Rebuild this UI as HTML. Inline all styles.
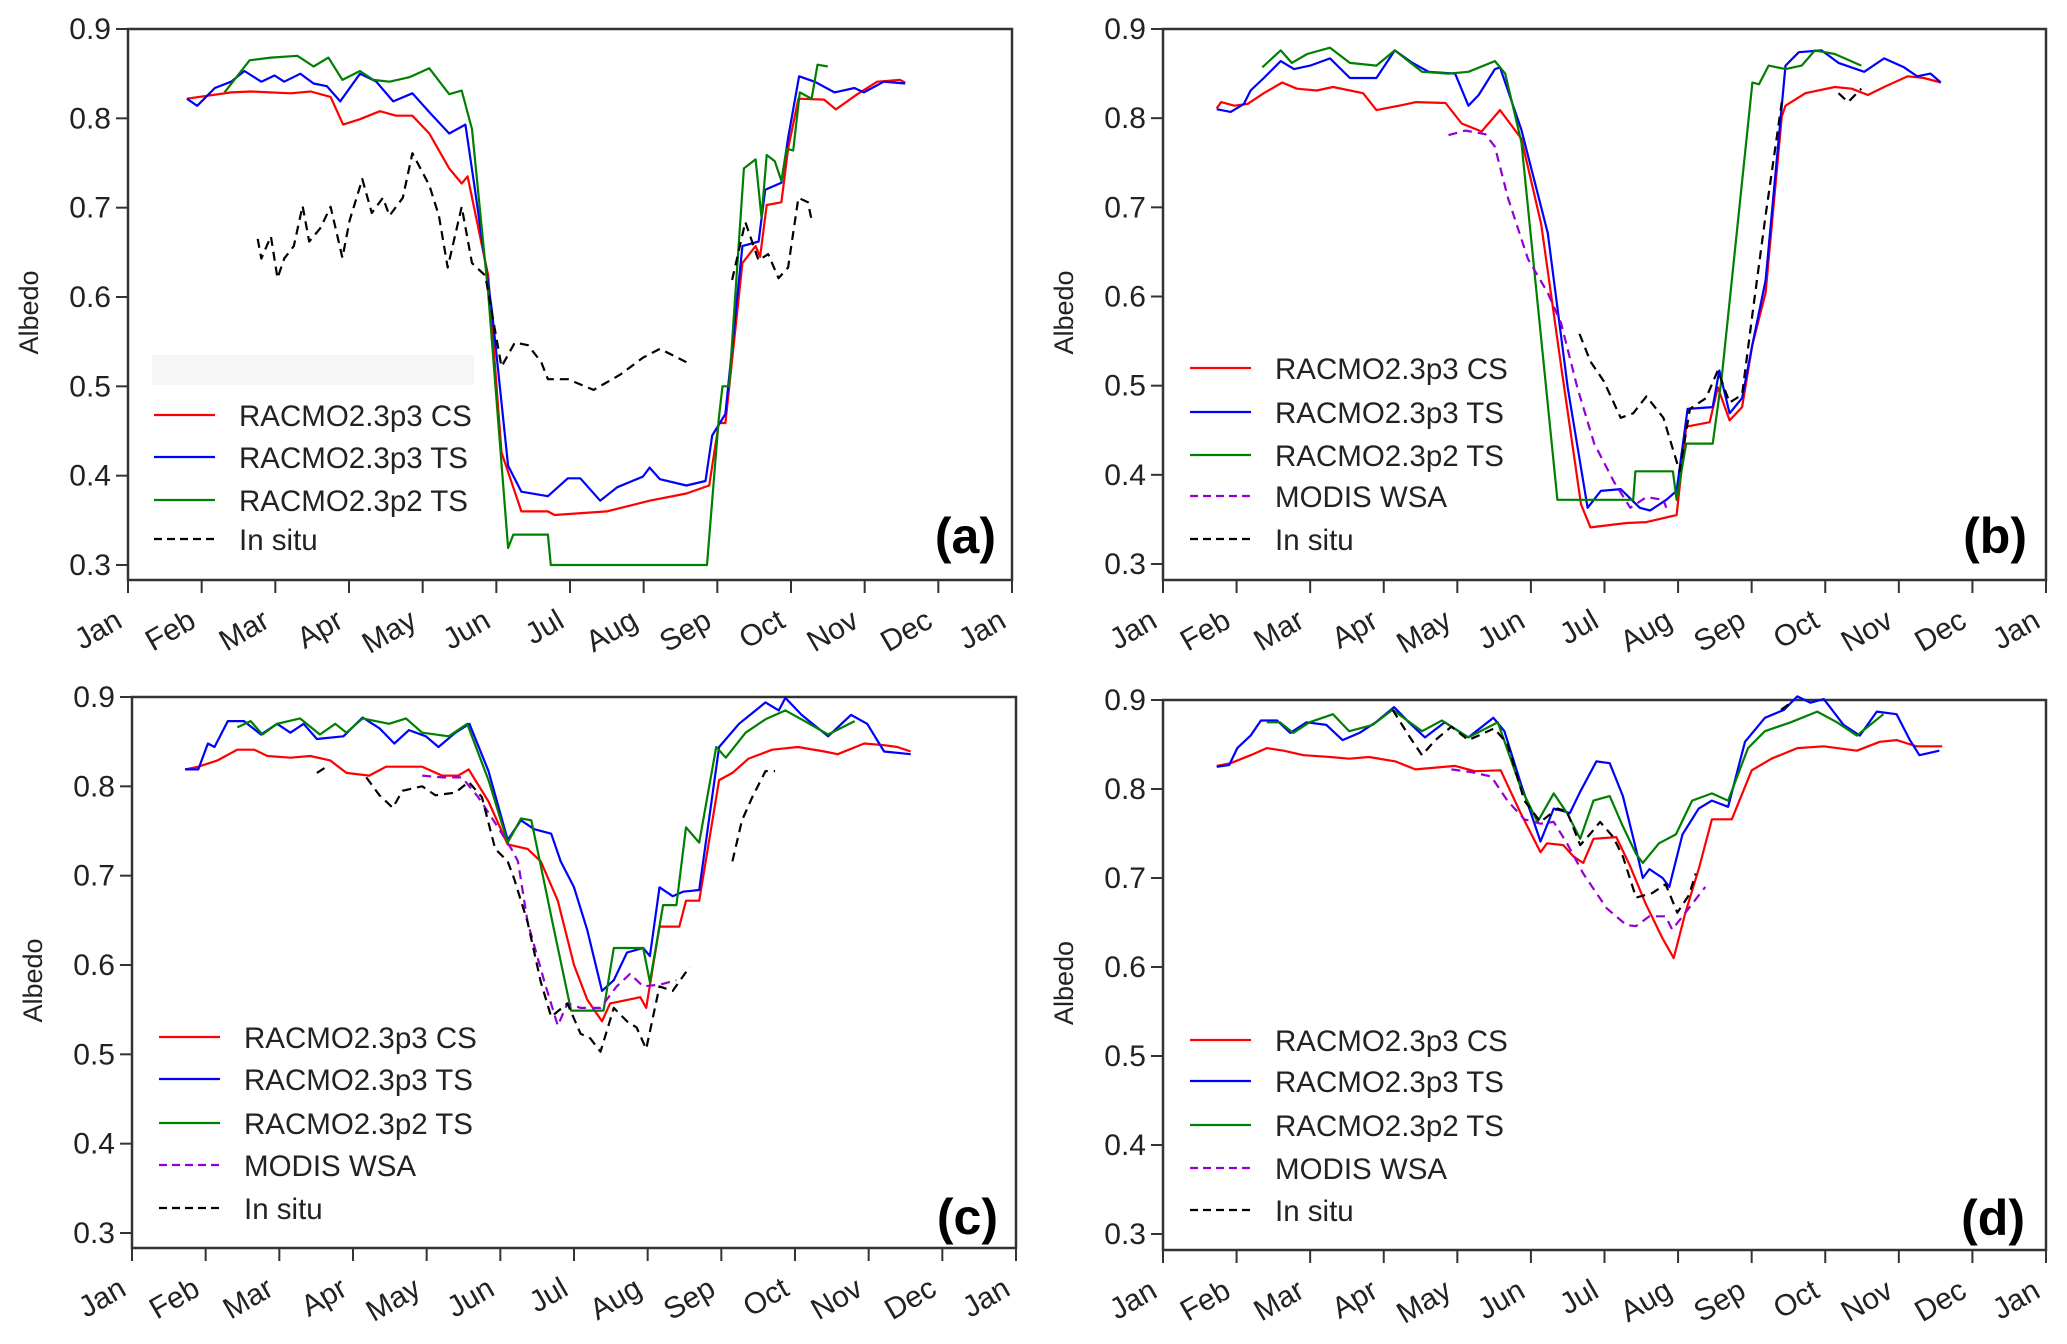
<!DOCTYPE html>
<html><head><meta charset="utf-8"><style>
html,body{margin:0;padding:0;background:#fff;}
svg{display:block;font-family:"Liberation Sans",Arial,sans-serif;}
</style></head><body>
<svg id="fig" width="2067" height="1344" viewBox="0 0 2067 1344" xmlns="http://www.w3.org/2000/svg"></svg>
<script>
const monthLabels=["Jan","Feb","Mar","Apr","May","Jun","Jul","Aug","Sep","Oct","Nov","Dec","Jan"];
const yTicks=[0.3,0.4,0.5,0.6,0.7,0.8,0.9];
const legendNames=["RACMO2.3p3 CS","RACMO2.3p3 TS","RACMO2.3p2 TS","MODIS WSA","In situ"];

// Panel (a)
const aCS=[[0.80,0.822],[1.40,0.829],[1.67,0.830],[2.21,0.828],[2.48,0.830],[2.75,0.824],[2.92,0.793],[3.15,0.799],[3.42,0.808],[3.64,0.803],[3.86,0.803],[4.09,0.783],[4.36,0.744],[4.53,0.727],[4.61,0.735],[4.89,0.624],[5.07,0.426],[5.34,0.360],[5.70,0.360],[5.79,0.356],[6.50,0.360],[7.08,0.372],[7.58,0.380],[7.89,0.389],[8.02,0.459],[8.11,0.459],[8.34,0.638],[8.52,0.657],[8.58,0.645],[8.67,0.703],[8.87,0.706],[8.96,0.766],[9.10,0.822],[9.45,0.821],[9.61,0.810],[9.90,0.827],[10.17,0.841],[10.48,0.843],[10.55,0.840]];
const aTS=[[0.80,0.822],[0.94,0.814],[1.18,0.834],[1.40,0.841],[1.58,0.853],[1.81,0.841],[1.99,0.848],[2.12,0.841],[2.34,0.850],[2.52,0.839],[2.70,0.836],[2.88,0.819],[3.15,0.850],[3.37,0.841],[3.60,0.819],[3.86,0.828],[4.09,0.807],[4.36,0.783],[4.58,0.793],[4.71,0.720],[4.94,0.585],[5.16,0.411],[5.34,0.382],[5.70,0.377],[5.97,0.397],[6.14,0.397],[6.41,0.372],[6.64,0.387],[6.99,0.399],[7.08,0.409],[7.22,0.396],[7.58,0.389],[7.84,0.394],[7.93,0.445],[8.11,0.469],[8.34,0.657],[8.56,0.662],[8.65,0.720],[8.87,0.728],[8.96,0.778],[9.11,0.847],[9.32,0.841],[9.59,0.829],[9.86,0.834],[9.99,0.829],[10.26,0.841],[10.55,0.839]];
const aP2=[[1.31,0.829],[1.65,0.865],[1.94,0.868],[2.30,0.870],[2.52,0.858],[2.72,0.868],[2.91,0.843],[3.15,0.853],[3.33,0.843],[3.55,0.841],[3.82,0.846],[4.09,0.856],[4.36,0.827],[4.53,0.831],[4.67,0.788],[4.89,0.604],[5.16,0.319],[5.23,0.334],[5.70,0.334],[5.74,0.300],[7.86,0.300],[8.02,0.464],[8.07,0.500],[8.16,0.500],[8.36,0.744],[8.52,0.754],[8.60,0.689],[8.67,0.759],[8.78,0.752],[8.87,0.730],[8.94,0.766],[9.03,0.764],[9.12,0.829],[9.28,0.822],[9.36,0.860],[9.50,0.858]];
const aSitu=[[1.76,0.665],[1.81,0.643],[1.94,0.668],[2.03,0.621],[2.12,0.643],[2.25,0.657],[2.37,0.702],[2.46,0.662],[2.61,0.677],[2.75,0.701],[2.91,0.644],[3.01,0.686],[3.18,0.732],[3.31,0.694],[3.46,0.711],[3.55,0.691],[3.73,0.711],[3.86,0.761],[4.09,0.725],[4.22,0.691],[4.34,0.633],[4.53,0.701],[4.67,0.638],[4.85,0.624],[5.07,0.522],[5.25,0.549],[5.43,0.546],[5.61,0.527],[5.70,0.508],[5.97,0.508],[6.32,0.496],[6.68,0.513],[6.99,0.532],[7.22,0.542],[7.58,0.527],null,[8.20,0.619],[8.38,0.684],[8.56,0.641],[8.69,0.648],[8.83,0.621],[8.96,0.633],[9.10,0.711],[9.23,0.706],[9.29,0.682]];

// Panel (b)
const bCS=[[0.73,0.811],[0.79,0.818],[0.97,0.814],[1.15,0.816],[1.37,0.828],[1.62,0.840],[1.82,0.833],[2.09,0.831],[2.31,0.835],[2.72,0.828],[2.90,0.809],[3.21,0.814],[3.44,0.818],[3.84,0.817],[4.06,0.794],[4.33,0.785],[4.58,0.809],[4.87,0.777],[5.14,0.681],[5.41,0.522],[5.68,0.367],[5.81,0.341],[6.30,0.346],[6.57,0.347],[6.98,0.355],[7.11,0.454],[7.43,0.459],[7.54,0.498],[7.70,0.461],[7.87,0.476],[8.01,0.546],[8.19,0.604],[8.41,0.802],[8.46,0.814],[8.73,0.828],[9.13,0.835],[9.36,0.833],[9.58,0.826],[9.80,0.835],[10.12,0.847],[10.34,0.845],[10.57,0.840]];
const bTS=[[0.73,0.810],[0.92,0.807],[1.10,0.816],[1.19,0.831],[1.37,0.845],[1.60,0.864],[1.78,0.855],[2.00,0.859],[2.27,0.867],[2.54,0.845],[2.90,0.845],[3.15,0.876],[3.39,0.862],[3.61,0.852],[3.97,0.850],[4.15,0.814],[4.29,0.826],[4.51,0.855],[4.58,0.857],[4.87,0.787],[5.23,0.671],[5.50,0.498],[5.77,0.363],[5.95,0.382],[6.22,0.384],[6.48,0.363],[6.62,0.360],[6.84,0.372],[6.98,0.382],[7.13,0.474],[7.47,0.476],[7.56,0.517],[7.70,0.469],[7.87,0.486],[8.01,0.546],[8.19,0.618],[8.46,0.859],[8.64,0.874],[8.95,0.876],[9.18,0.862],[9.53,0.852],[9.80,0.867],[10.07,0.857],[10.25,0.847],[10.43,0.850],[10.57,0.840]];
const bP2=[[1.35,0.857],[1.60,0.876],[1.75,0.862],[1.96,0.872],[2.27,0.879],[2.54,0.862],[2.90,0.859],[3.15,0.876],[3.52,0.852],[3.88,0.850],[4.15,0.852],[4.51,0.864],[4.65,0.850],[4.87,0.773],[5.36,0.372],[6.39,0.372],[6.42,0.404],[6.93,0.404],[6.98,0.372],[7.11,0.435],[7.47,0.435],[7.59,0.507],[8.01,0.840],[8.10,0.838],[8.23,0.859],[8.46,0.855],[8.68,0.859],[8.86,0.876],[9.13,0.872],[9.49,0.859]];
const bModis=[[3.88,0.781],[4.11,0.786],[4.38,0.782],[4.51,0.768],[4.69,0.710],[4.96,0.642],[5.23,0.604],[5.41,0.570],[5.63,0.498],[5.86,0.435],[6.13,0.392],[6.35,0.363],[6.57,0.375],[6.80,0.372],[6.84,0.363]];
const bSitu=[[5.66,0.558],[5.81,0.527],[5.99,0.505],[6.22,0.464],[6.39,0.469],[6.57,0.488],[6.80,0.464],[7.02,0.404],[7.16,0.474],[7.38,0.486],[7.54,0.517],[7.70,0.481],[7.87,0.490],[8.01,0.580],[8.19,0.691],[8.41,0.818],null,[9.18,0.828],[9.31,0.818],[9.49,0.833]];

// Panel (c)
const cCS=[[0.72,0.819],[0.90,0.822],[1.16,0.829],[1.43,0.841],[1.66,0.841],[1.84,0.834],[2.15,0.832],[2.42,0.834],[2.69,0.829],[2.91,0.815],[3.22,0.812],[3.45,0.822],[3.94,0.822],[4.21,0.812],[4.43,0.812],[4.57,0.819],[4.84,0.783],[5.10,0.735],[5.37,0.730],[5.55,0.716],[5.78,0.672],[6.00,0.600],[6.18,0.561],[6.38,0.537],[6.49,0.557],[6.90,0.564],[6.98,0.552],[7.16,0.643],[7.43,0.643],[7.52,0.672],[7.70,0.672],[7.97,0.807],[8.15,0.815],[8.37,0.831],[8.69,0.841],[9.04,0.844],[9.40,0.839],[9.58,0.836],[9.94,0.848],[10.21,0.846],[10.39,0.844],[10.57,0.839]];
const cTS=[[0.72,0.819],[0.90,0.819],[1.03,0.848],[1.12,0.844],[1.30,0.873],[1.52,0.873],[1.75,0.858],[1.97,0.870],[2.15,0.860],[2.33,0.870],[2.51,0.853],[2.87,0.856],[3.13,0.877],[3.36,0.865],[3.56,0.848],[3.76,0.863],[3.99,0.856],[4.16,0.844],[4.39,0.860],[4.58,0.870],[4.84,0.817],[5.10,0.740],[5.28,0.762],[5.46,0.752],[5.69,0.747],[5.82,0.716],[6.00,0.687],[6.18,0.639],[6.38,0.571],[6.54,0.583],[6.72,0.614],[6.94,0.619],[7.03,0.610],[7.16,0.687],[7.34,0.677],[7.48,0.682],[7.70,0.684],[7.97,0.844],[8.24,0.870],[8.60,0.894],[8.78,0.885],[8.87,0.899],[9.09,0.880],[9.45,0.856],[9.76,0.880],[9.98,0.870],[10.21,0.839],[10.57,0.836]];
const cP2=[[1.43,0.866],[1.61,0.873],[1.77,0.858],[1.97,0.870],[2.28,0.876],[2.55,0.858],[2.76,0.870],[2.91,0.860],[3.13,0.876],[3.49,0.870],[3.72,0.876],[3.94,0.860],[4.30,0.856],[4.55,0.870],[4.84,0.807],[5.10,0.737],[5.28,0.764],[5.42,0.762],[5.55,0.711],[5.73,0.639],[5.96,0.549],[6.40,0.549],[6.54,0.619],[6.94,0.619],[7.03,0.581],[7.21,0.667],[7.39,0.667],[7.52,0.754],[7.70,0.737],[7.93,0.844],[8.06,0.832],[8.33,0.860],[8.60,0.875],[8.87,0.885],[9.13,0.873],[9.45,0.858],[9.81,0.873]];
const cModis=[[3.94,0.812],[4.21,0.810],[4.48,0.810],[4.70,0.788],[4.93,0.759],[5.15,0.730],[5.24,0.716],[5.37,0.648],[5.60,0.581],[5.78,0.532],[5.91,0.557],[6.09,0.552],[6.36,0.552],[6.58,0.576],[6.76,0.590],[6.94,0.576],[7.16,0.578],[7.39,0.583]];
const cSitu=[[2.51,0.815],[2.64,0.822],null,[3.18,0.810],[3.36,0.790],[3.54,0.776],[3.67,0.795],[3.94,0.800],[4.12,0.790],[4.39,0.793],[4.57,0.805],[4.75,0.788],[4.93,0.730],[5.10,0.716],[5.19,0.696],[5.37,0.648],[5.55,0.581],[5.69,0.542],[5.91,0.557],[6.09,0.523],[6.22,0.518],[6.36,0.503],[6.54,0.552],[6.72,0.537],[6.85,0.530],[6.98,0.506],[7.16,0.576],[7.34,0.571],[7.57,0.598],null,[8.15,0.716],[8.28,0.762],[8.42,0.788],[8.60,0.817],[8.73,0.817]];

// Panel (d)
const dCS=[[0.73,0.826],[0.92,0.829],[1.19,0.838],[1.41,0.846],[1.64,0.843],[1.91,0.838],[2.27,0.836],[2.53,0.834],[2.80,0.836],[3.16,0.831],[3.43,0.822],[3.70,0.824],[3.97,0.826],[4.24,0.820],[4.59,0.821],[4.86,0.773],[5.13,0.729],[5.22,0.739],[5.44,0.737],[5.58,0.724],[5.71,0.717],[5.85,0.744],[6.16,0.746],[6.34,0.715],[6.56,0.671],[6.79,0.632],[6.94,0.610],[7.10,0.661],[7.28,0.710],[7.46,0.766],[7.73,0.766],[8.00,0.821],[8.27,0.834],[8.62,0.846],[8.98,0.848],[9.43,0.843],[9.74,0.853],[9.97,0.855],[10.24,0.848],[10.59,0.848]];
const dTS=[[0.73,0.825],[0.90,0.827],[1.01,0.846],[1.19,0.860],[1.33,0.877],[1.55,0.877],[1.73,0.863],[1.95,0.875],[2.22,0.872],[2.44,0.855],[2.67,0.863],[2.89,0.875],[3.14,0.892],[3.34,0.875],[3.56,0.858],[3.83,0.875],[4.15,0.858],[4.49,0.880],[4.64,0.865],[4.86,0.807],[5.13,0.741],[5.31,0.778],[5.53,0.773],[5.67,0.797],[5.89,0.831],[6.07,0.829],[6.25,0.792],[6.43,0.732],[6.52,0.700],[6.61,0.710],[6.79,0.700],[6.88,0.690],[7.06,0.749],[7.28,0.778],[7.46,0.787],[7.68,0.780],[7.91,0.853],[8.18,0.880],[8.44,0.889],[8.62,0.904],[8.80,0.897],[8.98,0.901],[9.25,0.872],[9.47,0.860],[9.70,0.887],[9.97,0.884],[10.15,0.855],[10.28,0.838],[10.55,0.843]];
const dP2=[[1.41,0.875],[1.59,0.875],[1.77,0.863],[1.99,0.875],[2.31,0.884],[2.53,0.865],[2.85,0.872],[3.12,0.889],[3.52,0.865],[3.79,0.877],[4.15,0.858],[4.55,0.875],[4.86,0.802],[5.09,0.763],[5.31,0.795],[5.49,0.773],[5.67,0.744],[5.85,0.787],[6.07,0.792],[6.25,0.758],[6.43,0.727],[6.52,0.717],[6.74,0.739],[6.97,0.749],[7.19,0.787],[7.46,0.795],[7.68,0.787],[7.95,0.846],[8.18,0.865],[8.53,0.875],[8.89,0.887],[9.16,0.875],[9.43,0.860],[9.79,0.884]];
const dModis=[[3.92,0.822],[4.19,0.819],[4.46,0.814],[4.68,0.787],[4.91,0.766],[5.13,0.761],[5.31,0.763],[5.49,0.739],[5.71,0.705],[6.03,0.666],[6.30,0.647],[6.43,0.646],[6.61,0.657],[6.83,0.657],[6.92,0.642],[7.10,0.661],[7.37,0.690]];
const dSitu=[[3.12,0.889],[3.34,0.860],[3.52,0.838],[3.70,0.855],[3.92,0.870],[4.15,0.855],[4.50,0.868],[4.68,0.851],[4.91,0.787],[5.13,0.763],[5.36,0.778],[5.49,0.775],[5.67,0.737],[5.80,0.749],[5.94,0.763],[6.12,0.746],[6.25,0.724],[6.43,0.678],[6.65,0.683],[6.83,0.693],[6.99,0.661],[7.15,0.681],[7.24,0.705],null,[8.40,0.889],[8.53,0.897]];

const NS="http://www.w3.org/2000/svg";
const svg=document.getElementById('fig');
function mk(tag,attrs,parent){const e=document.createElementNS(NS,tag);for(const k in attrs)e.setAttribute(k,attrs[k]);(parent||svg).appendChild(e);return e;}

const styles=[
 {color:"#ff0000",dash:null},
 {color:"#0000ff",dash:null},
 {color:"#008000",dash:null},
 {color:"#9400d3",dash:"9,6"},
 {color:"#000000",dash:"9,6"}
];

const panels=[
 {id:"a",x0:128,x1:1012,y9:29,y3:565,top:29,bot:580,letter:"(a)",lx:996,ly:553,legX:154,legRows:[415,457,500,539],legIdx:[0,1,2,4],
  series:[[aCS,0],[aTS,1],[aP2,2],[aSitu,4]],shade:true},
 {id:"b",x0:1163,x1:2046,y9:29,y3:564,top:29,bot:580,letter:"(b)",lx:2027,ly:553,legX:1190,legRows:[368,412,455,496,539],legIdx:[0,1,2,3,4],
  series:[[bCS,0],[bTS,1],[bP2,2],[bModis,3],[bSitu,4]]},
 {id:"c",x0:132,x1:1016,y9:697,y3:1233,top:697,bot:1248,letter:"(c)",lx:998,ly:1234,legX:159,legRows:[1037,1079,1123,1165,1208],legIdx:[0,1,2,3,4],
  series:[[cCS,0],[cTS,1],[cP2,2],[cModis,3],[cSitu,4]]},
 {id:"d",x0:1163,x1:2046,y9:700,y3:1234,top:700,bot:1250,letter:"(d)",lx:2025,ly:1235,legX:1190,legRows:[1040,1081,1125,1168,1210],legIdx:[0,1,2,3,4],
  series:[[dCS,0],[dTS,1],[dP2,2],[dModis,3],[dSitu,4]]}
];

panels.forEach(p=>{
  const g=mk('g',{});
  
  
  const X=m=>p.x0+(p.x1-p.x0)*m/12;
  const Y=v=>p.y3+(p.y9-p.y3)*(v-0.3)/0.6;
  if(p.shade){
    const sh=mk('rect',{x:152,y:355,width:322,height:30,fill:"#f6f6f6"},g);
    
    
  }
  const fr=mk('rect',{x:p.x0,y:p.top,width:p.x1-p.x0,height:p.bot-p.top,fill:"none",stroke:"#333",'stroke-width':2.5},g);
  
  
  const ya=mk('g',{},g);
  
  
  yTicks.forEach(t=>{
    const y=Y(t);
    mk('line',{x1:p.x0-12,x2:p.x0,y1:y,y2:y,stroke:"#333",'stroke-width':2},ya);
    const tx=mk('text',{x:p.x0-17,y:y+10,'text-anchor':'end','font-size':30,fill:"#222"},ya);
    tx.textContent=t.toFixed(1);
    
    
  });
  const yl=mk('text',{x:0,y:0,transform:`translate(${p.x0-90},${(p.top+p.bot)/2+8}) rotate(-90)`,'text-anchor':'middle','font-size':27,fill:"#222"},g);
  yl.textContent="Albedo";
  
  
  const xa=mk('g',{},g);
  
  
  monthLabels.forEach((lab,i)=>{
    const x=X(i);
    mk('line',{x1:x,x2:x,y1:p.bot,y2:p.bot+13,stroke:"#333",'stroke-width':2},xa);
    const tx=mk('text',{x:0,y:0,transform:`translate(${x-4},${p.bot+46}) rotate(-30)`,'text-anchor':'end','font-size':30,fill:"#222"},xa);
    tx.textContent=lab;
    
    
  });
  p.series.forEach(([data,si])=>{
    const st=styles[si];
    let d="",pen=false;
    data.forEach(pt=>{
      if(pt===null){pen=false;return;}
      d+=(pen?"L":"M")+X(pt[0]).toFixed(1)+","+Y(pt[1]).toFixed(1);
      pen=true;
    });
    const path=mk('path',{d:d,fill:"none",stroke:st.color,'stroke-width':2.2,'stroke-linejoin':'round'},g);
    if(st.dash)path.setAttribute('stroke-dasharray',st.dash);
    
    
  });
  const lg=mk('g',{},g);
  
  
  p.legIdx.forEach((si,k)=>{
    const y=p.legRows[k];
    const st=styles[si];
    const ln=mk('line',{x1:p.legX,x2:p.legX+61,y1:y,y2:y,stroke:st.color,'stroke-width':2.2},lg);
    if(st.dash)ln.setAttribute('stroke-dasharray','8,5');
    
    
    const tx=mk('text',{x:p.legX+85,y:y+11,'font-size':29.5,fill:"#222"},lg);
    tx.textContent=legendNames[si];
    
    
  });
  const L=mk('text',{x:p.lx,y:p.ly,'text-anchor':'end','font-size':50,'font-weight':'bold',fill:"#000"},g);
  L.textContent=p.letter;
  
  
});
</script>
</body></html>
